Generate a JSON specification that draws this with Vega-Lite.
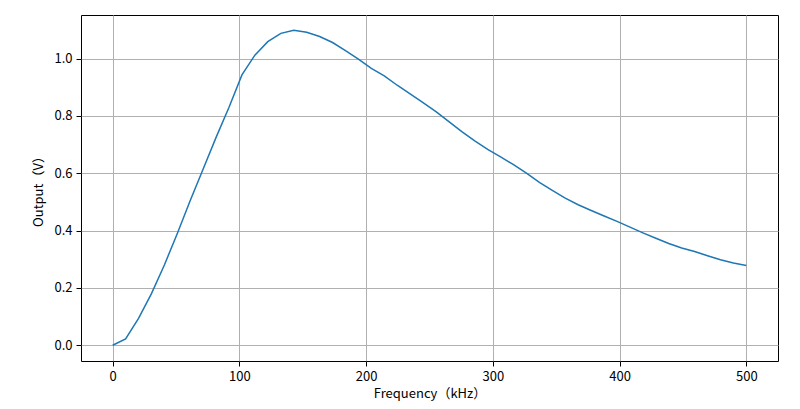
{
  "$schema": "https://vega.github.io/schema/vega-lite/v6.json",
  "width": 697,
  "height": 346,
  "autosize": {"type": "none"},
  "padding": {"left": 81, "top": 15, "right": 22, "bottom": 48},
  "background": "white",
  "config": {
    "view": {"stroke": "black", "strokeWidth": 1},
    "font": "Noto Sans CJK SC",
    "axis": {
      "labelFont": "Noto Sans CJK SC",
      "titleFont": "Noto Sans CJK SC",
      "labelFontSize": 13,
      "titleFontSize": 13,
      "labelColor": "black",
      "titleColor": "black",
      "titleFontWeight": "normal",
      "tickColor": "black",
      "tickSize": 5,
      "tickWidth": 1,
      "labelPadding": 4,
      "domain": false,
      "gridColor": "#b0b0b0",
      "gridWidth": 1,
      "gridOpacity": 1
    }
  },
  "data": {
    "values": [
      {"f": 0.0, "v": 0.0},
      {"f": 10.2, "v": 0.022},
      {"f": 20.4, "v": 0.094},
      {"f": 30.6, "v": 0.18},
      {"f": 40.8, "v": 0.28},
      {"f": 51.0, "v": 0.39},
      {"f": 61.2, "v": 0.505},
      {"f": 71.4, "v": 0.615},
      {"f": 81.6, "v": 0.725},
      {"f": 91.8, "v": 0.83},
      {"f": 102.0, "v": 0.943},
      {"f": 112.2, "v": 1.012},
      {"f": 122.4, "v": 1.059},
      {"f": 132.7, "v": 1.088},
      {"f": 142.9, "v": 1.099},
      {"f": 153.1, "v": 1.092},
      {"f": 163.3, "v": 1.077},
      {"f": 173.5, "v": 1.056},
      {"f": 183.7, "v": 1.028},
      {"f": 193.9, "v": 0.998},
      {"f": 204.1, "v": 0.966},
      {"f": 214.3, "v": 0.94},
      {"f": 224.5, "v": 0.907},
      {"f": 234.7, "v": 0.877},
      {"f": 244.9, "v": 0.846},
      {"f": 255.1, "v": 0.815},
      {"f": 265.3, "v": 0.78},
      {"f": 275.5, "v": 0.745},
      {"f": 285.7, "v": 0.713},
      {"f": 295.9, "v": 0.683},
      {"f": 306.1, "v": 0.657},
      {"f": 316.3, "v": 0.63},
      {"f": 326.5, "v": 0.6},
      {"f": 336.7, "v": 0.568},
      {"f": 346.9, "v": 0.54},
      {"f": 357.1, "v": 0.513},
      {"f": 367.3, "v": 0.49},
      {"f": 377.6, "v": 0.47},
      {"f": 387.8, "v": 0.451},
      {"f": 398.0, "v": 0.432},
      {"f": 408.2, "v": 0.412},
      {"f": 418.4, "v": 0.392},
      {"f": 428.6, "v": 0.373},
      {"f": 438.8, "v": 0.355},
      {"f": 449.0, "v": 0.339},
      {"f": 459.2, "v": 0.327},
      {"f": 469.4, "v": 0.312},
      {"f": 479.6, "v": 0.298},
      {"f": 489.8, "v": 0.287},
      {"f": 500.0, "v": 0.278}
    ]
  },
  "mark": {"type": "line", "color": "#1f77b4", "strokeWidth": 1.5},
  "encoding": {
    "x": {
      "field": "f",
      "type": "quantitative",
      "scale": {"domain": [-25, 525], "nice": false, "zero": false},
      "axis": {"title": "Frequency（kHz）", "values": [0, 100, 200, 300, 400, 500], "format": "d", "titlePadding": 4}
    },
    "y": {
      "field": "v",
      "type": "quantitative",
      "scale": {"domain": [-0.055, 1.152], "nice": false, "zero": false},
      "axis": {"title": "Output（V）", "values": [0, 0.2, 0.4, 0.6, 0.8, 1.0], "format": ".1f", "titlePadding": 8}
    }
  }
}
